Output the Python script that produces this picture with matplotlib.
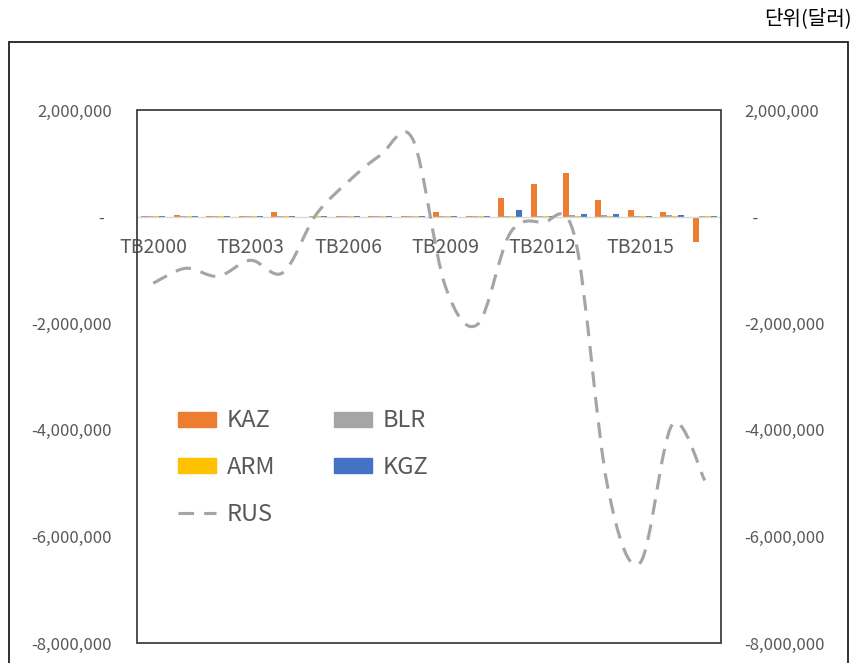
import matplotlib
matplotlib.use("Agg")
import matplotlib.pyplot as plt
import numpy as np
from matplotlib.path import Path
from matplotlib.patches import PathPatch, Rectangle, Patch
from matplotlib.lines import Line2D
from matplotlib.ticker import FuncFormatter, MultipleLocator

plt.rcParams['font.family'] = ['Noto Sans CJK KR', 'DejaVu Sans']

years = [f'TB{y}' for y in range(2000, 2018)]

kaz = [8e3, 25e3, 5e3, 20e3, 80e3, -15e3, 10e3, 12e3, 15e3, 95e3,
       15e3, 340e3, 620e3, 810e3, 315e3, 130e3, 85e3, -480e3]
blr = [10e3, 8e3, 10e3, 20e3, 15e3, 10e3, 12e3, 10e3, 8e3, 15e3,
       10e3, 8e3, 15e3, 30e3, 25e3, 15e3, 30e3, 10e3]
arm = [4e3, 6e3, 5e3, 8e3, 10e3, 8e3, 6e3, 7e3, 9e3, 10e3,
       8e3, 10e3, 12e3, 15e3, 12e3, 10e3, 8e3, 10e3]
kgz = [10e3, 12e3, 8e3, 15e3, 10e3, 12e3, 10e3, 8e3, 15e3, 12e3,
       20e3, 125e3, 20e3, 45e3, 40e3, 20e3, 25e3, 15e3]
rus = [-1.25e6, -0.97e6, -1.12e6, -0.82e6, -1.05e6, 0.02e6, 0.65e6, 1.15e6, 1.45e6,
       -1.30e6, -2.02e6, -0.31e6, -0.11e6, -0.40e6, -5.05e6, -6.50e6, -3.90e6, -4.95e6]

bar_series = [('KAZ', kaz, '#ED7D31'), ('BLR', blr, '#A5A5A5'),
              ('ARM', arm, '#FFC000'), ('KGZ', kgz, '#4472C4')]
line_color = '#A5A5A5'
text_color = '#595959'

fig = plt.figure(figsize=(8.55, 6.63), dpi=100)
ax = fig.add_axes([137 / 855, 20 / 663, 584 / 855, 533 / 663])

x = np.arange(len(years))
w = 0.185
for k, (name, vals, col) in enumerate(bar_series):
    ax.bar(x + (k - 1.5) * w, vals, width=w, color=col, zorder=2)

ylo, yhi = -8e6, 2e6
ax.set_xlim(-0.5, len(years) - 0.5)
ax.set_ylim(ylo, yhi)
ax.yaxis.set_major_locator(MultipleLocator(2e6))


def left_fmt(v, pos):
    return '-  ' if abs(v) < 1 else f'{v:,.0f}'


def right_fmt(v, pos):
    return '  -' if abs(v) < 1 else f'{v:,.0f}'


ax.yaxis.set_major_formatter(FuncFormatter(left_fmt))
ax.tick_params(axis='y', length=0, pad=18, labelsize=12, labelcolor=text_color)

# category axis sits on the zero line
ax.spines['bottom'].set_position(('data', 0))
ax.spines['bottom'].set_color('#D9D9D9')
ax.spines['bottom'].set_linewidth(1.0)
for s in ('top', 'left', 'right'):
    ax.spines[s].set_visible(False)
ax.set_xticks(x[::3])
ax.set_xticklabels(years[::3])
ax.tick_params(axis='x', length=0, pad=15, labelsize=14, labelcolor=text_color)
ax.add_patch(Rectangle((0, 0), 1, 1, transform=ax.transAxes, fill=False,
                       ec='#404040', lw=1.3, clip_on=False, zorder=5))

# RUS on the secondary axis, drawn as a smoothed bezier through the points
ax2 = ax.twinx()
ax2.set_ylim(ylo, yhi)
ax2.yaxis.set_major_locator(MultipleLocator(2e6))
ax2.yaxis.set_major_formatter(FuncFormatter(right_fmt))
ax2.tick_params(axis='y', length=0, pad=17, labelsize=12, labelcolor=text_color)
for s in ax2.spines.values():
    s.set_visible(False)

pts = np.column_stack([x, rus]).astype(float)
padded = np.vstack([pts[0], pts, pts[-1]])
verts = [pts[0]]
codes = [Path.MOVETO]
for i in range(len(pts) - 1):
    p0, p1, p2, p3 = padded[i], padded[i + 1], padded[i + 2], padded[i + 3]
    verts += [p1 + (p2 - p0) / 6, p2 - (p3 - p1) / 6, p2]
    codes += [Path.CURVE4] * 3
dash = (0, (5.0, 3.2))
ax2.add_patch(PathPatch(Path(verts, codes), fill=False, ec=line_color, lw=2.25,
                        linestyle=dash, capstyle='butt'))

handles = [Patch(color=c) for _, _, c in bar_series]
handles.append(Line2D([], [], color=line_color, lw=2.25, linestyle=dash))
labels = [n for n, _, _ in bar_series] + ['RUS']
order = [0, 2, 4, 1, 3]
leg = ax2.legend([handles[i] for i in order], [labels[i] for i in order],
                 ncol=2, loc='upper left', bbox_to_anchor=(0.034, 0.478),
                 frameon=False, fontsize=17, handlelength=1.6, handleheight=0.6,
                 handletextpad=0.45, columnspacing=2.5, labelspacing=1.0)
for t in leg.get_texts():
    t.set_color(text_color)

fig.patches.append(Rectangle((9 / 855, -0.05), 839 / 855, (663 - 42) / 663 + 0.05,
                             transform=fig.transFigure, fill=False, ec='#202020',
                             lw=1.3, figure=fig))
fig.text(852 / 855, 1 - 19 / 663, '단위(달러)', ha='right', va='center',
         fontsize=14.5, color='#000000')

fig.savefig('out.png', dpi=100)
